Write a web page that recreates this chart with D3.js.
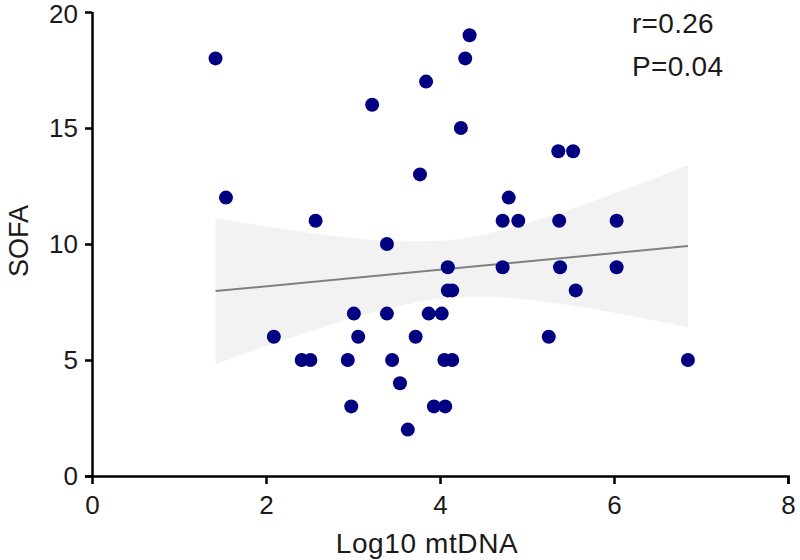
<!DOCTYPE html>
<html>
<head>
<meta charset="utf-8">
<script src="https://cdn.jsdelivr.net/npm/d3@7"></script>
<style>
  html, body { margin: 0; padding: 0; background: #fff; }
  svg { display: block; }
  text { font-family: "Liberation Sans", Arial, Helvetica, sans-serif; fill: #1a1a1a; }
</style>
</head>
<body>
<svg id="chart" width="800" height="560"></svg>
<script>
// Data (Log10 mtDNA vs SOFA)
const mtDNA = [1.42, 1.54, 2.57, 3.22, 3.39, 4.34, 4.29, 3.84, 4.24, 5.36, 5.53, 3.77, 4.79,
  4.72, 4.90, 5.37, 6.03, 4.09, 4.72, 5.38, 6.03, 2.09, 2.41, 2.51, 2.94, 3.01, 3.06, 2.98,
  3.39, 3.45, 3.54, 4.09, 4.14, 5.56, 3.87, 4.02, 3.72, 5.25, 4.05, 4.14, 6.85, 3.93, 4.06, 3.63];
const sofa = [18, 12, 11, 16, 10, 19, 18, 17, 15, 14, 14, 13, 12,
  11, 11, 11, 11, 9, 9, 9, 9, 6, 5, 5, 5, 7, 6, 3,
  7, 5, 4, 8, 8, 8, 7, 7, 6, 6, 5, 5, 5, 3, 3, 2];

// Regression line and 95% confidence band
const fitX = [1.42, 6.85];
const fitY = [7.97, 9.91];
const bandX = [1.42, 2.0, 2.5, 3.0, 3.5, 4.0, 4.5, 5.0, 5.5, 6.0, 6.5, 6.85];
const bandLower = [4.82, 5.60, 6.23, 6.81, 7.30, 7.64, 7.74, 7.61, 7.36, 7.04, 6.68, 6.42];
const bandUpper = [11.12, 10.76, 10.49, 10.25, 10.12, 10.14, 10.40, 10.89, 11.50, 12.18, 12.88, 13.40];

const xTicks = [0, 2, 4, 6, 8];
const yTicks = [0, 5, 10, 15, 20];
const stats = ["r=0.26", "P=0.04"];

const svg = d3.select("#chart");
const x = d3.scaleLinear().domain([0, 8]).range([92, 788]);
const y = d3.scaleLinear().domain([0, 20]).range([476, 12]);

// Confidence band
const band = bandX.map((v, i) => ({x: v, lo: bandLower[i], hi: bandUpper[i]}));
svg.append("path")
  .datum(band)
  .attr("fill", "#f2f2f2")
  .attr("d", d3.area().x(d => x(d.x)).y0(d => y(d.lo)).y1(d => y(d.hi)).curve(d3.curveMonotoneX));

// Regression line
svg.append("path")
  .datum(fitX.map((v, i) => [v, fitY[i]]))
  .attr("fill", "none")
  .attr("stroke", "#808080")
  .attr("stroke-width", 2)
  .attr("d", d3.line().x(d => x(d[0])).y(d => y(d[1])));

// Points
svg.append("g")
  .selectAll("circle")
  .data(mtDNA.map((v, i) => [v, sofa[i]]))
  .join("circle")
  .attr("cx", d => x(d[0]))
  .attr("cy", d => y(d[1]))
  .attr("r", 7)
  .attr("fill", "#000080");

// Axes
const xAxis = svg.append("g")
  .attr("transform", "translate(0,476)")
  .call(d3.axisBottom(x).tickValues(xTicks).tickFormat(d3.format("d")).tickSize(8).tickPadding(12));
const yAxis = svg.append("g")
  .attr("transform", "translate(92,0)")
  .call(d3.axisLeft(y).tickValues(yTicks).tickFormat(d3.format("d")).tickSize(7).tickPadding(7));

[xAxis, yAxis].forEach(g => {
  g.select(".domain").attr("stroke", "#000").attr("stroke-width", 2.5);
  g.selectAll(".tick line").attr("stroke", "#000").attr("stroke-width", 2.5);
  g.selectAll(".tick text").attr("font-size", 26).attr("fill", "#1a1a1a")
    .style("font-family", '"Liberation Sans", Arial, sans-serif');
});
xAxis.select(".domain").attr("d", "M85,0.5H788.5V8");
yAxis.select(".domain").attr("d", "M0.5,12V476");
// keep the top label inside the picture
yAxis.selectAll(".tick text").filter(d => d === 20).attr("dy", "0.42em");

// Axis titles
svg.append("text")
  .attr("x", 427).attr("y", 553)
  .attr("text-anchor", "middle")
  .attr("font-size", 28)
  .attr("letter-spacing", 0.6)
  .text("Log10 mtDNA");
svg.append("text")
  .attr("transform", "translate(28,241) rotate(-90)")
  .attr("text-anchor", "middle")
  .attr("font-size", 27)
  .text("SOFA");

// Stats
svg.append("g").selectAll("text")
  .data(stats)
  .join("text")
  .attr("x", 632)
  .attr("y", (d, i) => 33 + i * 43)
  .attr("font-size", 28)
  .attr("letter-spacing", 0.3)
  .text(d => d);
</script>
</body>
</html>
